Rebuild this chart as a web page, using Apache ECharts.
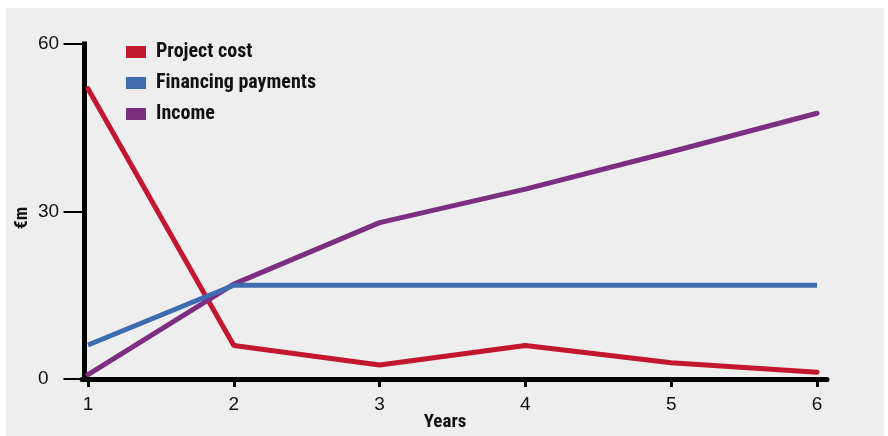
<!DOCTYPE html>
<html>
<head>
<meta charset="utf-8">
<script src="https://cdn.jsdelivr.net/npm/echarts@6/dist/echarts.min.js"></script>
<style>
html,body{margin:0;padding:0;background:#ffffff;}
#panel{position:absolute;left:6px;top:8px;width:878px;height:428px;background:#eeeeee;}
#chart{position:absolute;left:0;top:0;width:888px;height:436px;}
</style>
</head>
<body>
<div id="panel"></div>
<div id="chart"></div>
<script>
const years = [1, 2, 3, 4, 5, 6];
const projectCost = [52, 6, 2.5, 6, 2.9, 1.2];
const financingPayments = [6.1, 16.8, 16.8, 16.8, 16.8, 16.8];
const income = [0.8, 17, 28, 34, 40.7, 47.6];
const yTicks = [0, 30, 60];
const seriesNames = ['Project cost', 'Financing payments', 'Income'];
const colors = ['#c3172e', '#3e6cb1', '#7b2e82'];

const condensed = '"Liberation Sans Narrow", "Arial Narrow", "Roboto Condensed", sans-serif';
const chart = echarts.init(document.getElementById('chart'), null, {renderer: 'canvas'});
const pairs = arr => years.map((x, i) => [x, arr[i]]);

chart.setOption({
  backgroundColor: 'transparent',
  animation: false,
  grid: {left: 82, right: 61, top: 44, bottom: 57, containLabel: false},
  legend: {
    orient: 'vertical', left: 126, top: 42, padding: 0,
    icon: 'rect', itemWidth: 20, itemHeight: 12, itemGap: 11,
    data: seriesNames,
    textStyle: {fontFamily: condensed, fontWeight: 'bold', fontSize: 20, color: '#111', lineHeight: 20, padding: [0, 0, 0, 5]}
  },
  xAxis: {
    type: 'value', min: 0.9588, max: 6.0686,
    splitLine: {show: false},
    axisLine: {show: true, onZero: false, lineStyle: {color: '#000', width: 5}},
    axisTick: {show: true, length: 8, lineStyle: {color: '#000', width: 3}, customValues: years},
    axisLabel: {customValues: years, margin: 16, fontSize: 19, color: '#111', fontFamily: '"Liberation Sans", Arial, sans-serif'}
  },
  yAxis: {
    type: 'value', min: 0, max: 60, interval: 30, offset: -2.5,
    splitLine: {show: false},
    axisLine: {show: true, lineStyle: {color: '#000', width: 5, cap: 'square'}},
    axisTick: {show: true, length: 21, lineStyle: {color: '#000', width: 2}, customValues: yTicks},
    axisLabel: {customValues: yTicks, align: 'left', margin: 46.5, fontSize: 19, color: '#111', fontFamily: '"Liberation Sans", Arial, sans-serif'}
  },
  graphic: [
    {type: 'text', x: 445, y: 422, style: {text: 'Years', align: 'center', verticalAlign: 'middle', font: 'bold 19px ' + condensed, fill: '#111'}},
    {type: 'text', x: 22, y: 218, rotation: Math.PI / 2, style: {text: '€m', align: 'center', verticalAlign: 'middle', font: 'bold 18px ' + condensed, fill: '#111'}}
  ],
  series: [
    {name: seriesNames[0], type: 'line', data: pairs(projectCost), showSymbol: false, symbol: 'none', color: colors[0], lineStyle: {width: 5, cap: 'round', color: colors[0]}, z: 2},
    {name: seriesNames[2], type: 'line', data: pairs(income), showSymbol: false, symbol: 'none', color: colors[2], lineStyle: {width: 5, cap: 'round', color: colors[2]}, z: 3},
    {name: seriesNames[1], type: 'line', data: pairs(financingPayments), showSymbol: false, symbol: 'none', color: colors[1], lineStyle: {width: 5, cap: 'butt', color: colors[1]}, z: 4}
  ]
});
</script>
</body>
</html>
